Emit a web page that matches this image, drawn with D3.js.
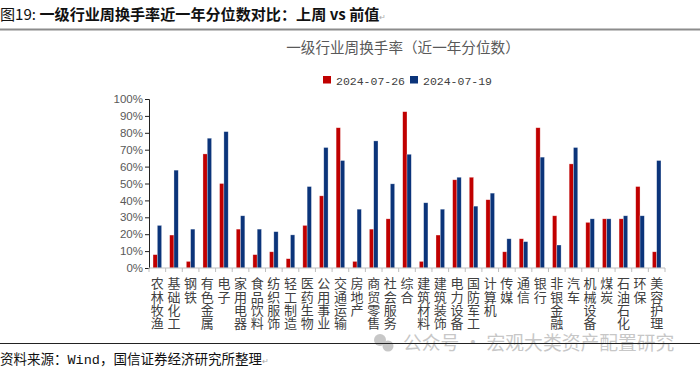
<!DOCTYPE html>
<html>
<head>
<meta charset="utf-8">
<script src="https://cdn.jsdelivr.net/npm/d3@7"></script>
<style>
  body { margin: 0; background: #fff; }
  svg { display: block; font-family: "Noto Sans CJK SC", "Liberation Sans", sans-serif; }
</style>
</head>
<body>
<div id="chart"></div>
<script>
// industries (one label per category, stacked vertically under the axis)
const categories = ['农林牧渔', '基础化工', '钢铁', '有色金属', '电子', '家用电器', '食品饮料', '纺织服饰',
  '轻工制造', '医药生物', '公用事业', '交通运输', '房地产', '商贸零售', '社会服务', '综合', '建筑材料',
  '建筑装饰', '电力设备', '国防军工', '计算机', '传媒', '通信', '银行', '非银金融', '汽车', '机械设备',
  '煤炭', '石油石化', '环保', '美容护理'];

// 2024-07-26 (red)
const latest = [7.9, 19.5, 3.9, 67.5, 50.0, 23.0, 7.9, 9.6, 5.5, 25.2, 42.7, 83.0, 3.9, 23.0, 29.1, 92.5,
  3.9, 19.5, 52.2, 53.7, 40.4, 9.6, 17.3, 83.0, 30.9, 61.6, 27.0, 29.1, 29.1, 48.2, 9.6];

// 2024-07-19 (blue)
const previous = [25.2, 57.9, 23.0, 76.8, 80.7, 30.9, 23.0, 21.5, 19.6, 48.2, 71.3, 63.6, 34.8, 75.2, 49.8, 67.3,
  38.6, 34.8, 53.7, 36.6, 44.3, 17.3, 15.6, 65.6, 13.6, 71.3, 29.1, 29.1, 30.9, 30.9, 63.6];

const seriesNames = ['2024-07-26', '2024-07-19'];
const colors = ['#C00000', '#0B347A'];
const yTicks = [0, 10, 20, 30, 40, 50, 60, 70, 80, 90, 100];

const width = 700;
const height = 372;

const svg = d3.select('#chart')
  .append('svg')
  .attr('width', width)
  .attr('height', height);

// header
const header = svg.append('text')
  .attr('x', 0)
  .attr('y', 20)
  .attr('font-size', 15.1)
  .attr('fill', '#111');
header.append('tspan').text('图19: ');
header.append('tspan').attr('font-weight', 'bold').text('一级行业周换手率近一年分位数对比：上周 vs 前值');
header.append('tspan').attr('font-size', 8).attr('fill', '#aaa').text('↵');

svg.append('line')
  .attr('x1', 0).attr('x2', width)
  .attr('y1', 29.5).attr('y2', 29.5)
  .attr('stroke', '#8c8c8c')
  .attr('stroke-width', 2);

// chart title
svg.append('text')
  .attr('x', 403)
  .attr('y', 53)
  .attr('text-anchor', 'middle')
  .attr('font-size', 14.6)
  .attr('fill', '#595959')
  .text('一级行业周换手率（近一年分位数）');

// legend
const legend = svg.append('g').attr('transform', 'translate(323,80)');
const legendX = [0, 87];
seriesNames.forEach((name, i) => {
  legend.append('rect')
    .attr('x', legendX[i]).attr('y', -4)
    .attr('width', 8).attr('height', 7.5)
    .attr('fill', colors[i]);
  legend.append('text')
    .attr('x', legendX[i] + 13)
    .attr('y', 4.5)
    .attr('font-size', 11.5)
    .attr('font-family', 'Liberation Mono, DejaVu Sans Mono, monospace')
    .attr('fill', '#404040')
    .text(name);
});

// scales
const x0 = d3.scaleBand()
  .domain(categories)
  .range([149, 665])
  .paddingInner(0)
  .paddingOuter(0);

const yScale = d3.scaleLinear()
  .domain([0, 100])
  .range([268, 99]);

const barW = 4.3;

// bars
const groups = svg.append('g')
  .selectAll('g')
  .data(categories.map((c, i) => ({ cat: c, vals: [latest[i], previous[i]] })))
  .join('g')
  .attr('transform', d => `translate(${x0(d.cat) + x0.bandwidth() / 2},0)`);

groups.selectAll('rect')
  .data(d => d.vals)
  .join('rect')
  .attr('x', (d, i) => i === 0 ? -barW : 0)
  .attr('y', d => yScale(d))
  .attr('width', barW)
  .attr('height', d => yScale(0) - yScale(d))
  .attr('fill', (d, i) => colors[i])
  .attr('stroke', '#fff')
  .attr('stroke-opacity', 0.5)
  .attr('stroke-width', 0.6);

// y axis
const yAxis = d3.axisLeft(yScale)
  .tickValues(yTicks)
  .tickSize(4)
  .tickFormat(d => d + '%');

const gy = svg.append('g')
  .attr('transform', 'translate(149,0)')
  .call(yAxis);
gy.select('.domain').attr('stroke', '#222');
gy.selectAll('.tick line').attr('stroke', '#222');
gy.selectAll('.tick text')
  .attr('fill', '#595959')
  .attr('font-size', 11.5)
  .attr('font-family', 'Liberation Sans, Arial, sans-serif')
  .attr('x', -6);

// x axis with ticks at category boundaries
const gx = svg.append('g')
  .attr('transform', `translate(0,${yScale(0)})`);
gx.append('line')
  .attr('x1', 149).attr('x2', 665)
  .attr('stroke', '#bfbfbf');
gx.selectAll('line.tk')
  .data(categories.concat(['end']))
  .join('line')
  .attr('class', 'tk')
  .attr('x1', (d, i) => x0.range()[0] + i * x0.step())
  .attr('x2', (d, i) => x0.range()[0] + i * x0.step())
  .attr('y1', 0).attr('y2', 4)
  .attr('stroke', '#bfbfbf');

// vertical category labels
svg.append('g')
  .selectAll('text')
  .data(categories)
  .join('text')
  .attr('x', d => x0(d) + x0.bandwidth() / 2)
  .attr('y', 277)
  .style('writing-mode', 'vertical-rl')
  .style('text-orientation', 'upright')
  .style('letter-spacing', '0.3px')
  .attr('font-size', 13)
  .attr('fill', '#404040')
  .text(d => d);

// watermark
const wm = svg.append('g').attr('opacity', 0.55);
wm.append('circle').attr('cx', 380).attr('cy', 340).attr('r', 6).attr('fill', '#9a9a9a');
wm.append('circle').attr('cx', 388).attr('cy', 346).attr('r', 5.5).attr('fill', '#9a9a9a');
wm.append('text')
  .attr('x', 403)
  .attr('y', 350)
  .attr('font-size', 18.8)
  .attr('fill', '#9a9a9a')
  .text('公众号 · 宏观大类资产配置研究');

// footer
svg.append('line')
  .attr('x1', 0).attr('x2', width)
  .attr('y1', 343.5).attr('y2', 343.5)
  .attr('stroke', '#222')
  .attr('stroke-width', 1);

const foot = svg.append('text')
  .attr('x', 0)
  .attr('y', 364)
  .attr('font-size', 13.5)
  .attr('fill', '#111');
foot.append('tspan').text('资料来源：');
foot.append('tspan').attr('font-family', 'Liberation Mono, monospace').text('Wind');
foot.append('tspan').text('，国信证券经济研究所整理');
foot.append('tspan').attr('font-size', 8).attr('fill', '#aaa').text('↵');
</script>
</body>
</html>
